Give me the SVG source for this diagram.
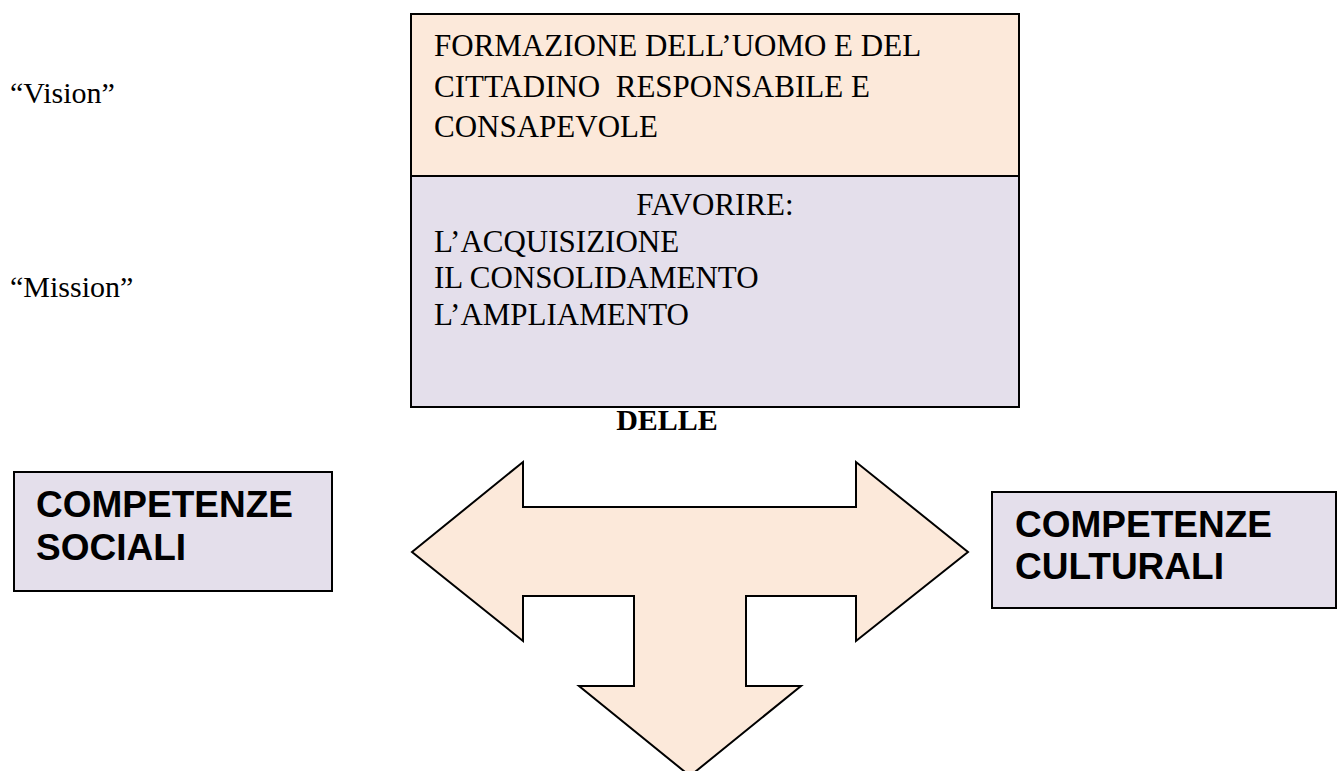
<svg xmlns="http://www.w3.org/2000/svg" width="1337" height="771" viewBox="0 0 1337 771">
  <style>
    .serif { font-family: "Liberation Serif", "Times New Roman", serif; fill: #000; }
    .t { font-size: 31px; }
    .lbl { font-size: 30px; }
    .bold { font-family: "Liberation Sans", Arial, sans-serif; font-weight: bold; font-size: 37px; fill: #000; }
    .peach { fill: #FCE9DA; stroke: #000; stroke-width: 2; }
    .lav { fill: #E4DFEB; stroke: #000; stroke-width: 2; }
  </style>
  <rect width="1337" height="771" fill="#fff"/>
  <g id="labels">
    <text class="serif lbl" x="10" y="103">“Vision”</text>
    <text class="serif lbl" x="10" y="297">“Mission”</text>
  </g>
  <g id="vision-box">
    <rect class="peach" x="411" y="14" width="608" height="162"/>
    <text class="serif t" x="434" y="56">FORMAZIONE DELL’UOMO E DEL</text>
    <text class="serif t" x="434" y="97" xml:space="preserve">CITTADINO  RESPONSABILE E</text>
    <text class="serif t" x="434" y="137">CONSAPEVOLE</text>
  </g>
  <g id="mission-box">
    <rect class="lav" x="411" y="176" width="608" height="231"/>
    <text class="serif t" x="715" y="215" text-anchor="middle">FAVORIRE:</text>
    <text class="serif t" x="434" y="252">L’ACQUISIZIONE</text>
    <text class="serif t" x="434" y="288">IL CONSOLIDAMENTO</text>
    <text class="serif t" x="434" y="325">L’AMPLIAMENTO</text>
  </g>
  <g id="delle">
    <text class="serif" x="667" y="430" font-size="30" font-weight="bold" text-anchor="middle">DELLE</text>
  </g>
  <g id="connectors">
    <polygon class="peach" stroke-linejoin="miter" points="412,552 523,462 523,507 856,507 856,462 968,552 856,641 856,596 746,596 746,686 801,686 690,776 579,686 634,686 634,596 523,596 523,641"/>
  </g>
  <g id="competenze-sociali">
    <rect class="lav" x="14" y="472" width="318" height="119"/>
    <text class="bold" x="36" y="517">COMPETENZE</text>
    <text class="bold" x="36" y="560">SOCIALI</text>
  </g>
  <g id="competenze-culturali">
    <rect class="lav" x="992" y="492" width="344" height="116"/>
    <text class="bold" x="1015" y="537">COMPETENZE</text>
    <text class="bold" x="1015" y="579">CULTURALI</text>
  </g>
</svg>
